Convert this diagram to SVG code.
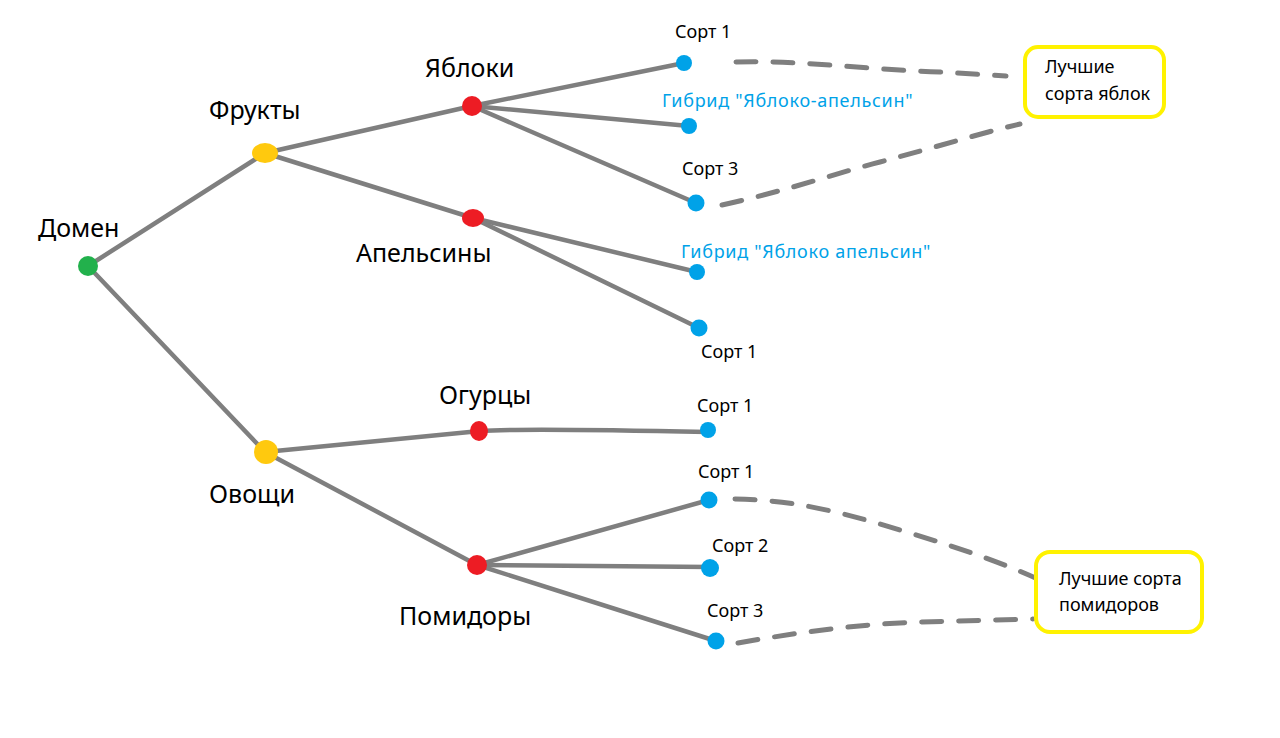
<svg xmlns="http://www.w3.org/2000/svg" width="1280" height="738" viewBox="0 0 1280 738">
<style>
.e{stroke:#7f7f7f;stroke-width:4.5;fill:none;stroke-linecap:round}
.d{stroke:#7f7f7f;stroke-width:5;fill:none;stroke-linecap:round;stroke-dasharray:20 17}
.big{font-family:"Noto Sans","Liberation Sans",sans-serif;font-size:25px;fill:#000}
.sm{font-family:"Noto Sans","Liberation Sans",sans-serif;font-size:18px;fill:#000}
.bl{font-family:"Noto Sans","Liberation Sans",sans-serif;font-size:18px;letter-spacing:0.7px;fill:#00a2e8}
.g{fill:#22b14c}.y{fill:#ffc90e}.r{fill:#ed1c24}.b{fill:#00a2e8}
.box{fill:#fff;stroke:#fff200;stroke-width:4}
</style>
<rect width="1280" height="738" fill="#fff"/>
<g id="connectors">
<line class="e" x1="88" y1="266" x2="265" y2="153"/>
<line class="e" x1="88" y1="266" x2="265" y2="452"/>
<line class="e" x1="265" y1="153" x2="472" y2="106"/>
<line class="e" x1="265" y1="153" x2="473" y2="218"/>
<line class="e" x1="472" y1="106" x2="684" y2="63"/>
<line class="e" x1="472" y1="106" x2="689" y2="126"/>
<line class="e" x1="472" y1="106" x2="696" y2="203"/>
<line class="e" x1="473" y1="218" x2="697" y2="272"/>
<line class="e" x1="473" y1="218" x2="699" y2="328"/>
<line class="e" x1="265" y1="452" x2="480" y2="431"/>
<path class="e" d="M480 431 Q520 428 708 432"/>
<line class="e" x1="265" y1="452" x2="477" y2="565"/>
<line class="e" x1="477" y1="565" x2="709" y2="500"/>
<line class="e" x1="477" y1="565" x2="710" y2="567"/>
<line class="e" x1="477" y1="565" x2="716" y2="641"/>
<path class="d" d="M736 62 C800 60 870 70 940 72 L1006 76"/>
<path class="d" d="M722 205 C790 190 840 172 880 162 C940 146 985 132 1020 124"/>
<path class="d" d="M735 499 C800 500 850 515 900 530 C960 548 1000 562 1040 580"/>
<path class="d" d="M738 643 C800 632 860 624 920 622 L1033 619"/>
</g>
<g id="n-domen"><circle class="g" cx="88" cy="266" r="10"/><text class="big" x="38" y="237">Домен</text></g>
<g id="n-frukty"><ellipse class="y" cx="265" cy="153" rx="13" ry="10"/><text class="big" x="209" y="119">Фрукты</text></g>
<g id="n-ovoshchi"><ellipse class="y" cx="266" cy="452" rx="12" ry="12"/><text class="big" x="209" y="503">Овощи</text></g>
<g id="n-yabloki"><ellipse class="r" cx="472" cy="106" rx="10" ry="10"/><text class="big" x="425" y="77">Яблоки</text></g>
<g id="n-apelsiny"><ellipse class="r" cx="473" cy="218" rx="11" ry="9"/><text class="big" x="356" y="262">Апельсины</text></g>
<g id="n-ogurtsy"><ellipse class="r" cx="479" cy="431" rx="9" ry="10"/><text class="big" x="439" y="404">Огурцы</text></g>
<g id="n-pomidory"><ellipse class="r" cx="477" cy="565" rx="10" ry="10"/><text class="big" x="399" y="625">Помидоры</text></g>
<g id="l-a1"><circle class="b" cx="684" cy="63" r="8"/><text class="sm" x="675" y="38">Сорт 1</text></g>
<g id="l-a2"><circle class="b" cx="689" cy="126" r="8"/><text class="bl" x="662" y="107">Гибрид "Яблоко-апельсин"</text></g>
<g id="l-a3"><circle class="b" cx="696" cy="203" r="8.5"/><text class="sm" x="682" y="175">Сорт 3</text></g>
<g id="l-o1"><circle class="b" cx="697" cy="272" r="8"/><text class="bl" x="681" y="258">Гибрид "Яблоко апельсин"</text></g>
<g id="l-o2"><circle class="b" cx="699" cy="328" r="8.5"/><text class="sm" x="701" y="358">Сорт 1</text></g>
<g id="l-c1"><circle class="b" cx="708" cy="430" r="8"/><text class="sm" x="697" y="412">Сорт 1</text></g>
<g id="l-p1"><circle class="b" cx="709" cy="500" r="8.5"/><text class="sm" x="698" y="478">Сорт 1</text></g>
<g id="l-p2"><circle class="b" cx="710" cy="568" r="9"/><text class="sm" x="712" y="552">Сорт 2</text></g>
<g id="l-p3"><circle class="b" cx="716" cy="641" r="8.5"/><text class="sm" x="707" y="617">Сорт 3</text></g>
<g id="best-apples"><rect class="box" x="1025" y="47" width="139" height="70" rx="13"/><text class="sm" x="1045" y="73">Лучшие</text><text class="sm" x="1045" y="100">сорта яблок</text></g>
<g id="best-tomatoes"><rect class="box" x="1036" y="552" width="166" height="80" rx="14"/><text class="sm" x="1059" y="585">Лучшие сорта</text><text class="sm" x="1059" y="611">помидоров</text></g>
</svg>
